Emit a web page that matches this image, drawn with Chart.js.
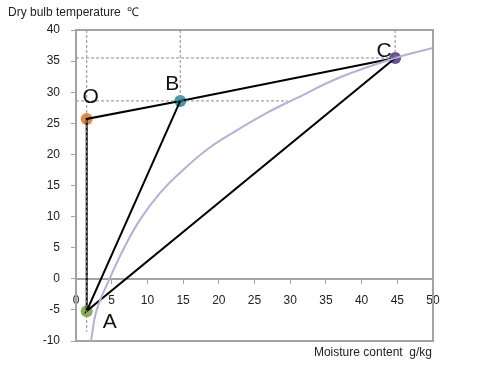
<!DOCTYPE html>
<html><head><meta charset="utf-8">
<script src="https://cdn.jsdelivr.net/npm/chart.js@4"></script>
<style>html,body{margin:0;padding:0;background:#fff}#wrap{width:500px;height:379px}</style>
</head><body><div id="wrap"><canvas id="c" width="500" height="379"></canvas></div>
<script>
// ---- data ----
const pointNames = ['O', 'B', 'C', 'A'];
const pointX = [1.5, 14.6, 44.7, 1.5];
const pointY = [25.7, 28.6, 35.5, -5.2];
const pointColors = ['#e38b3d', '#3d9db5', '#6b4f96', '#8bae57'];
const processOrder = ['A', 'O', 'B', 'C', 'A', 'B'];
const curveX = [2.1, 2.9, 4.7, 6.8, 8.9, 11.7, 15.0, 18.5, 22.0, 26.6, 30.8, 37.0, 44.7, 50];
const curveY = [-10, -5, 0, 5.1, 9.4, 13.7, 17.5, 20.9, 23.5, 26.6, 29.0, 32.4, 35.5, 37.1];
const guideTopY = 40;
const guideBottomYA = -8.5;
const guideEndXB = 29.6;
const xTicks = [0, 5, 10, 15, 20, 25, 30, 35, 40, 45, 50];
const yTicks = [-10, -5, 0, 5, 10, 15, 20, 25, 30, 35, 40];
const xTitle = 'Moisture content  g/kg';
const yTitle = 'Dry bulb temperature  ℃';

const P = n => { const i = pointNames.indexOf(n); return {x: pointX[i], y: pointY[i]}; };
const curveData = curveX.map((x, i) => ({x, y: curveY[i]}));
const processData = processOrder.map(P);
const dashStyle = {borderColor: '#8c8c8c', borderWidth: 1, borderDash: [3, 2], pointRadius: 0, showLine: true, fill: false};
const guides = [
  [{x: P('O').x, y: guideTopY}, {x: P('A').x, y: guideBottomYA}],
  [{x: P('B').x, y: guideTopY}, P('B')],
  [{x: P('C').x, y: guideTopY}, P('C')],
  [{x: xTicks[0], y: P('B').y}, {x: guideEndXB, y: P('B').y}],
  [{x: xTicks[0], y: P('C').y}, P('C')]
];

const labelOffsets = {O: [4, -22], B: [-8, -17], C: [-11, -7], A: [23, 11]};
const FONT = '"Liberation Sans", "Open Sans", sans-serif';

const overlay = {
  id: 'overlay',
  beforeDatasetsDraw(chart) {
    const {ctx, chartArea: a} = chart;
    ctx.save();
    ctx.strokeStyle = '#a3a3a3';
    ctx.lineWidth = 2;
    ctx.strokeRect(a.left, a.top, a.right - a.left, a.bottom - a.top);
    ctx.restore();
  },
  afterDraw(chart) {
    const {ctx, scales: {x, y}} = chart;
    ctx.save();
    ctx.fillStyle = '#111';
    ctx.font = '21px ' + FONT;
    ctx.textAlign = 'center';
    ctx.textBaseline = 'middle';
    pointNames.forEach((n, i) => {
      const o = labelOffsets[n];
      ctx.fillText(n, x.getPixelForValue(pointX[i]) + o[0], y.getPixelForValue(pointY[i]) + o[1]);
    });
    ctx.font = '12px ' + FONT;
    ctx.fillStyle = '#222';
    ctx.textAlign = 'left';
    ctx.fillText(yTitle, 8, 13);
    ctx.textAlign = 'right';
    ctx.fillText(xTitle, 432, 353);
    ctx.restore();
  }
};

new Chart(document.getElementById('c'), {
  type: 'scatter',
  data: {
    datasets: [
      ...guides.map(g => Object.assign({data: g}, dashStyle)),
      {data: curveData, showLine: true, borderColor: '#b4b0d6', borderWidth: 2, pointRadius: 0, tension: 0.4},
      {data: processData, showLine: true, borderColor: '#000', borderWidth: 2, pointRadius: 0},
      {data: pointX.map((x, i) => ({x, y: pointY[i]})), pointRadius: 6, pointBackgroundColor: pointColors, pointBorderColor: pointColors, pointBorderWidth: 0, showLine: false}
    ]
  },
  options: {
    responsive: false,
    animation: false,
    events: [],
    layout: {padding: {left: 0, top: 30, right: 67, bottom: 38}},
    plugins: {legend: {display: false}, tooltip: {enabled: false}},
    scales: {
      x: {
        type: 'linear', min: 0, max: 50,
        position: {y: 0},
        afterBuildTicks: s => { s.ticks = xTicks.map(v => ({value: v})); },
        grid: {drawOnChartArea: false, drawTicks: true, tickLength: 4, color: '#a3a3a3'},
        border: {color: '#a3a3a3', width: 2},
        ticks: {color: '#222', font: {size: 12, family: FONT}, padding: 11, maxRotation: 0, autoSkip: false}
      },
      y: {
        type: 'linear', min: -10, max: 40,
        afterBuildTicks: s => { s.ticks = yTicks.map(v => ({value: v})); },
        afterFit: s => { s.width = 76; },
        grid: {drawOnChartArea: false, drawTicks: true, tickLength: 5, color: '#a3a3a3'},
        border: {color: '#a3a3a3', width: 2},
        ticks: {color: '#222', font: {size: 12, family: FONT}, padding: 11}
      }
    }
  },
  plugins: [overlay]
});
</script>
</body></html>
